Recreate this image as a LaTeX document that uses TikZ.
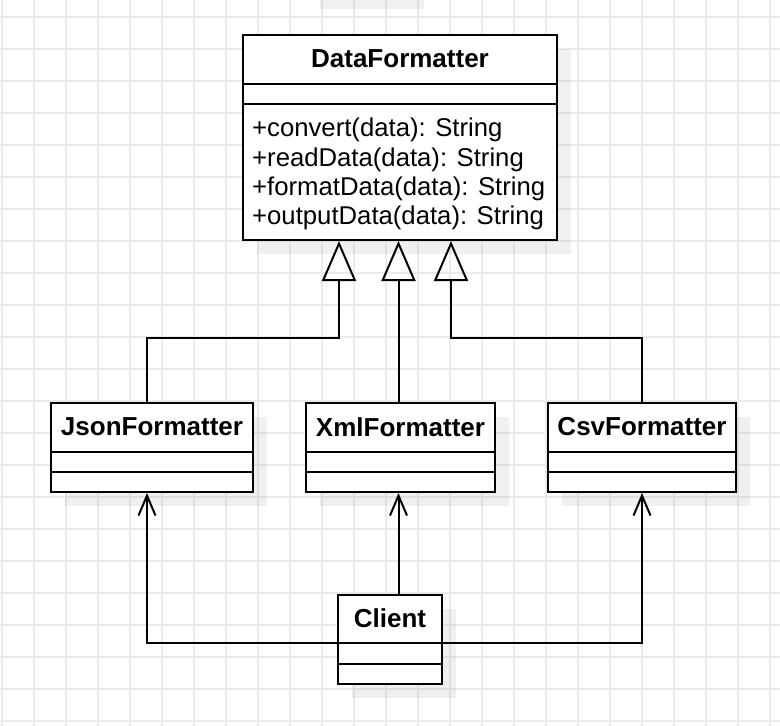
\documentclass[tikz,border=0pt]{standalone}
\usepackage{fontspec}
\setmainfont{Liberation Sans}
\usetikzlibrary{arrows.meta,shadows}
\definecolor{gridgrey}{HTML}{EBEBEB}

\tikzset{
  umlbox/.style={draw, line width=2pt, fill=white, anchor=north west, inner sep=0pt,
    drop shadow={shadow xshift=14pt, shadow yshift=-14pt, fill=black, opacity=0.06}},
  classname/.style={font=\bfseries\fontsize{26pt}{30pt}\selectfont, inner sep=0pt},
  method/.style={font=\fontsize{25.7pt}{30pt}\selectfont, anchor=base west, inner sep=0pt},
  divider/.style={line width=2pt},
  gridline/.style={gridgrey, line width=1.5pt},
  inherit/.style={line width=2pt, -{Triangle[open, length=40pt, width=34pt]}},
  uses/.style={line width=2pt, -{Straight Barb[length=20pt, width=17pt]}},
}

\begin{document}
\begin{tikzpicture}[x=1pt, y=-1pt]
  \useasboundingbox (0,0) rectangle (780,726);
  \fill[white] (0,0) rectangle (780,726);
  % background grid
  \foreach \x in {2,34,...,770} \draw[gridline] (\x,0) -- (\x,726);
  \foreach \y in {17,49,...,721} \draw[gridline] (0,\y) -- (780,\y);
  \fill[black, opacity=0.06] (320,0) rectangle (424,9);

  % classes
  \node[umlbox, minimum width=314pt, minimum height=205pt] (df) at (242,34) {};
  \node[umlbox, minimum width=202pt, minimum height=89pt] (json) at (50,402) {};
  \node[umlbox, minimum width=189pt, minimum height=89pt] (xml) at (305,402) {};
  \node[umlbox, minimum width=188pt, minimum height=89pt] (csv) at (547,402) {};
  \node[umlbox, minimum width=104pt, minimum height=89pt] (client) at (337,594) {};

  \foreach \n/\a/\b in {df/50/70, json/50/70, xml/50/70, csv/50/70, client/49/70} {
    \draw[divider] ([yshift=-\a pt]\n.north west) -- ([yshift=-\a pt]\n.north east);
    \draw[divider] ([yshift=-\b pt]\n.north west) -- ([yshift=-\b pt]\n.north east);
  }

  \node[classname] (dfname) at ([yshift=-25pt]df.north) {DataFormatter};
  \node[classname] (jsonname) at ([yshift=-25pt]json.north) {JsonFormatter};
  \node[classname] (xmlname) at ([yshift=-25pt]xml.north) {XmlFormatter};
  \node[classname] (csvname) at ([yshift=-25pt]csv.north) {CsvFormatter};
  \node[classname] (clientname) at ([yshift=-24pt]client.north) {Client};

  \foreach \m [count=\i] in {+convert(data): String, +readData(data): String,
      +formatData(data): String, +outputData(data): String}
    \node[method] (m\i) at (252, {107.4+29.3*\i}) {\m};

  % generalisation
  \draw[inherit] ([xshift=-5pt]json.north) -- ++(0,-64) -| ([xshift=-61pt]df.south);
  \draw[inherit] ([xshift=-2pt]xml.north) -- ([xshift=-2pt]xml.north |- df.south);
  \draw[inherit] (csv.north) -- ++(0,-64) -| ([xshift=51pt]df.south);

  % client uses
  \draw[uses] ([yshift=-3pt]client.west) -| ([xshift=-5pt]json.south);
  \draw[uses] ([xshift=-2pt]xml.south |- client.north) -- ([xshift=-2pt]xml.south);
  \draw[uses] ([yshift=-3pt]client.east) -| (csv.south);
\end{tikzpicture}
\end{document}
